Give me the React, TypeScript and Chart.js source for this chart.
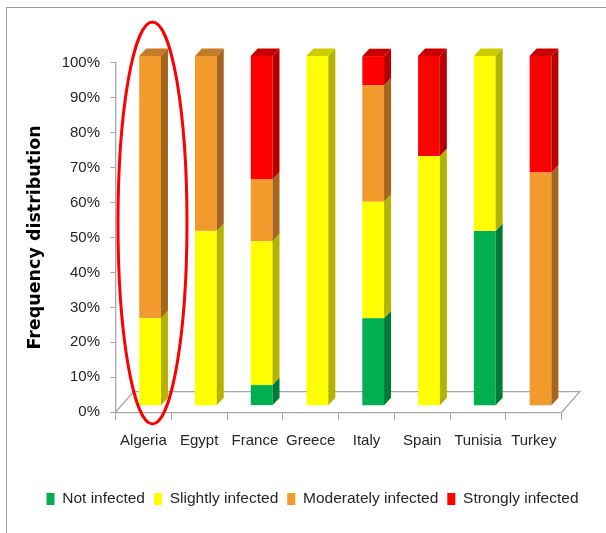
import React, { useEffect, useRef } from "react";
import { Chart, registerables } from "chart.js";

Chart.register(...registerables);

const categories = ["Algeria", "Egypt", "France", "Greece", "Italy", "Spain", "Tunisia", "Turkey"];
const notInfected = [0, 0, 5.88, 0, 25, 0, 50, 0];
const slightlyInfected = [25, 50, 41.18, 100, 33.33, 71.43, 50, 0];
const moderatelyInfected = [75, 50, 17.65, 0, 33.33, 0, 0, 66.67];
const stronglyInfected = [0, 0, 35.29, 0, 8.33, 28.57, 0, 33.33];
const seriesNames = ["Not infected", "Slightly infected", "Moderately infected", "Strongly infected"];
const frontColors = ["#00B050", "#FFFF00", "#F29A2C", "#FF0000"];
const sideColors = ["#007A37", "#B3B300", "#A5651D", "#B50000"];
const topColors = ["#00913F", "#CCCC00", "#C47B27", "#C80000"];
const yTicks = [0, 10, 20, 30, 40, 50, 60, 70, 80, 90, 100];
const highlightIndex = 0;

const BAR_DX = 6.7;
const BAR_DY = -6.6;
const DEPTH_DX = 7;
const DEPTH_DY = -7.5;
const FLOOR_DX = 18;
const FLOOR_DY = -20.6;
const AXIS_COLOR = "#A6A6A6";
const TEXT_COLOR = "#262626";

const threeD = {
  id: "threeD",
  beforeDatasetsDraw(chart: any) {
    const { ctx, chartArea } = chart;
    ctx.save();
    ctx.strokeStyle = AXIS_COLOR;
    ctx.lineWidth = 1.3;
    ctx.beginPath();
    ctx.moveTo(chartArea.left, chartArea.bottom);
    ctx.lineTo(chartArea.left + FLOOR_DX, chartArea.bottom + FLOOR_DY);
    ctx.lineTo(chartArea.right + FLOOR_DX, chartArea.bottom + FLOOR_DY);
    ctx.lineTo(chartArea.right, chartArea.bottom);
    ctx.stroke();
    ctx.restore();
    ctx.save();
    ctx.translate(BAR_DX, BAR_DY);
  },
  afterDatasetsDraw(chart: any) {
    const { ctx } = chart;
    const n = chart.data.labels.length;
    const topMost: number[] = [];
    for (let j = 0; j < n; j++) {
      topMost[j] = -1;
      chart.data.datasets.forEach((ds: any, i: number) => {
        if (ds.data[j] > 0) topMost[j] = i;
      });
    }
    chart.data.datasets.forEach((ds: any, i: number) => {
      const meta = chart.getDatasetMeta(i);
      meta.data.forEach((bar: any, j: number) => {
        if (!(ds.data[j] > 0)) return;
        const { x, y, base, width } = bar.getProps(["x", "y", "base", "width"], true);
        const xl = x - width / 2;
        const xr = x + width / 2;
        ctx.fillStyle = sideColors[i];
        ctx.beginPath();
        ctx.moveTo(xr, y);
        ctx.lineTo(xr + DEPTH_DX, y + DEPTH_DY);
        ctx.lineTo(xr + DEPTH_DX, base + DEPTH_DY);
        ctx.lineTo(xr, base);
        ctx.closePath();
        ctx.fill();
        if (topMost[j] === i) {
          ctx.fillStyle = topColors[i];
          ctx.beginPath();
          ctx.moveTo(xl, y);
          ctx.lineTo(xl + DEPTH_DX, y + DEPTH_DY);
          ctx.lineTo(xr + DEPTH_DX, y + DEPTH_DY);
          ctx.lineTo(xr, y);
          ctx.closePath();
          ctx.fill();
        }
      });
    });
    ctx.restore();
  },
  afterDraw(chart: any) {
    const { ctx, scales } = chart;
    const cx = scales.x.getPixelForValue(highlightIndex) + 9.1;
    const cy = scales.y.getPixelForValue(50) - 14.5;
    ctx.save();
    ctx.strokeStyle = "#FF0000";
    ctx.lineWidth = 3;
    ctx.beginPath();
    ctx.ellipse(cx, cy, 34.5, 201, 0, 0, Math.PI * 2);
    ctx.stroke();
    ctx.restore();
  },
};

export default function App() {
  const ref = useRef<HTMLCanvasElement | null>(null);
  useEffect(() => {
    if (!ref.current) return;
    Chart.defaults.font.family = "'Liberation Sans', Arial, sans-serif";
    const seriesData = [notInfected, slightlyInfected, moderatelyInfected, stronglyInfected];
    const chart = new Chart(ref.current, {
      type: "bar",
      data: {
        labels: categories,
        datasets: seriesData.map((d, i) => ({
          label: seriesNames[i],
          data: d,
          backgroundColor: frontColors[i],
          borderWidth: 0,
          clip: false as any,
          categoryPercentage: 1,
          barPercentage: 0.39,
        })),
      },
      options: {
        animation: false,
        responsive: false,
        events: [],
        layout: { padding: { left: 12, right: 0, top: 54.7, bottom: 16.25 } },
        plugins: {
          tooltip: { enabled: false },
          legend: {
            position: "bottom",
            labels: {
              boxWidth: 8,
              boxHeight: 12,
              padding: 9,
              color: TEXT_COLOR,
              font: { size: 15.5 },
            },
          },
        },
        scales: {
          x: {
            stacked: true,
            grid: {
              display: true,
              offset: true,
              drawOnChartArea: false,
              drawTicks: true,
              tickLength: 8,
              color: AXIS_COLOR,
            },
            border: { display: true, color: AXIS_COLOR, width: 1.3 },
            ticks: { color: TEXT_COLOR, font: { size: 15 }, padding: 12, maxRotation: 0, autoSkip: false },
            afterFit: (s: any) => {
              s.height = 70;
            },
          },
          y: {
            stacked: true,
            min: 0,
            max: 100,
            afterBuildTicks: (s: any) => {
              s.ticks = yTicks.map((v) => ({ value: v }));
            },
            grid: {
              display: true,
              drawOnChartArea: false,
              drawTicks: true,
              tickLength: 5,
              color: AXIS_COLOR,
            },
            border: { display: true, color: AXIS_COLOR, width: 1.3 },
            ticks: {
              color: TEXT_COLOR,
              font: { size: 15 },
              padding: 10.5,
              callback: (v: any) => v + "%",
            },
            title: {
              display: true,
              text: "Frequency distribution",
              color: "#000000",
              font: { family: "'DejaVu Sans', sans-serif", weight: "bold", size: 17.5 },
              padding: { top: 6, bottom: 0 },
            },
            afterFit: (s: any) => {
              s.width = 96.5;
            },
          },
          y2: {
            type: "linear",
            position: "right",
            display: true,
            grid: { display: false },
            border: { display: false },
            ticks: { display: false },
            afterFit: (s: any) => {
              s.width = 44.3;
            },
          },
        },
      },
      plugins: [threeD],
    });
    return () => chart.destroy();
  }, []);

  return (
    <div
      style={{
        position: "absolute",
        left: 6,
        top: 7,
        width: 599,
        height: 525,
        borderTop: "1.5px solid #9A9A9A",
        borderLeft: "1.5px solid #9A9A9A",
        background: "#FFFFFF",
      }}
    >
      <canvas ref={ref} width={599} height={525} style={{ display: "block" }} />
    </div>
  );
}
